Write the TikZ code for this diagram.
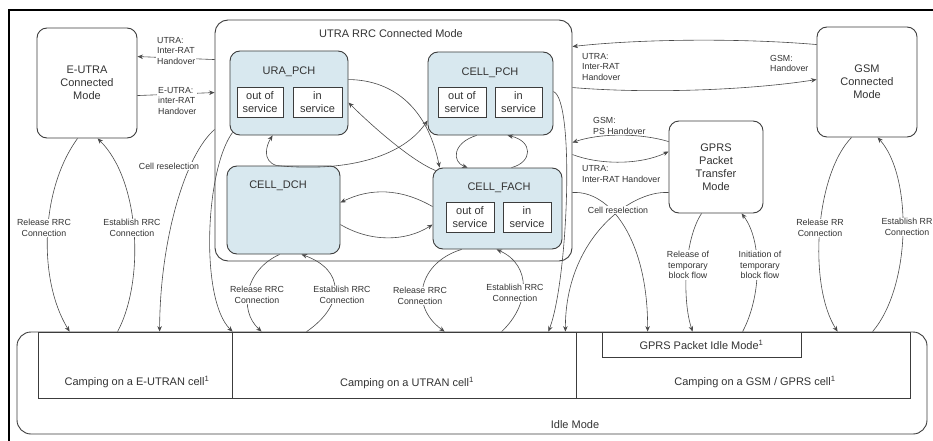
\documentclass[tikz,border=0pt]{standalone}
\usepackage{fontspec}
\setmainfont{Liberation Sans}
\usetikzlibrary{arrows.meta,calc}
\definecolor{lc}{HTML}{4A4A4A}
\definecolor{bc}{HTML}{3C3C3C}
\definecolor{tc}{HTML}{333333}
\definecolor{bluef}{HTML}{D8E8EF}
\begin{document}
\begin{tikzpicture}[x=1pt,y=-1pt,
  mainfont/.style={font=\fontsize{11}{13}\selectfont},
  lblfont/.style={font=\fontsize{8.8}{10.5}\selectfont},
  modebox/.style={draw=bc,line width=0.9pt,rounded corners=10pt,fill=white,inner sep=0pt,align=center,text=tc,mainfont},
  rrcstate/.style={modebox,fill=bluef},
  subbox/.style={draw=bc,line width=0.8pt,fill=white,inner sep=0pt,align=center,text=tc,mainfont},
  idlecell/.style={draw=bc,line width=0.8pt,inner sep=0pt},
  txt/.style={text=tc,mainfont,inner sep=0pt,align=center},
  elabel/.style={text=tc,lblfont,fill=white,inner sep=1pt,align=center},
  elabelL/.style={elabel,align=left,anchor=west},
  conn/.style={draw=lc,line width=0.6pt,-{Stealth[length=5.5pt,width=4.5pt]}},
]
\fill[white] (0,0) rectangle (933,441);
\path[use as bounding box] (0,0) rectangle (933,441);
\draw[black,line width=1.6pt] (9,441) -- (9,10) -- (933,10);

% Idle mode
\node[modebox,rounded corners=14pt,minimum width=910pt,minimum height=102pt] (idle) at (472,383) {};
\node[idlecell,minimum width=194pt,minimum height=66pt] (eutran) at (135,365) {};
\node[idlecell,minimum width=344pt,minimum height=66pt] (utran) at (404,365) {};
\node[idlecell,minimum width=334pt,minimum height=66pt] (gsmcell) at (743,365) {};
\node[idlecell,minimum width=199pt,minimum height=25pt,text=tc,mainfont] (gprsidle) at (701.5,344.5) {GPRS Packet Idle Mode\textsuperscript{1}};
\node[txt] (eutrantxt) at (137,382) {Camping on a E-UTRAN cell\textsuperscript{1}};
\node[txt] (utrantxt) at (407,383) {Camping on a UTRAN cell\textsuperscript{1}};
\node[txt] (gsmcelltxt) at (755,382) {Camping on a GSM / GPRS cell\textsuperscript{1}};
\node[txt] (idletxt) at (575,425) {Idle Mode};

% Connected modes
\node[modebox,minimum width=100pt,minimum height=110pt] (eutra) at (87,83) {E-UTRA\\Connected\\Mode};
\node[modebox,minimum width=100pt,minimum height=110pt] (gsm) at (867,82) {GSM\\Connected\\Mode};
\node[modebox,minimum width=94pt,minimum height=92pt] (gprs) at (716,167) {GPRS\\Packet\\Transfer\\Mode};

\node[modebox,rounded corners=13pt,minimum width=357pt,minimum height=241pt] (utra) at (393.5,140.5) {};
\node[txt] (utratitle) at (391,34) {UTRA RRC Connected Mode};

\node[rrcstate,minimum width=118pt,minimum height=84pt] (ura) at (289,93) {};
\node[txt] (uratitle) at (289,72) {URA\_PCH};
\node[subbox,minimum width=46pt,minimum height=30pt] (uraout) at (260,102) {out of\\service};
\node[subbox,minimum width=49pt,minimum height=30pt] (urain) at (317.5,102) {in\\service};

\node[rrcstate,minimum width=125pt,minimum height=83pt] (cellpch) at (490.5,93.5) {};
\node[txt] (pchtitle) at (490,73) {CELL\_PCH};
\node[subbox,minimum width=48pt,minimum height=30pt] (pchout) at (462,102) {out of\\service};
\node[subbox,minimum width=47pt,minimum height=30pt] (pchin) at (518.5,102) {in\\service};

\node[rrcstate,minimum width=113pt,minimum height=88pt] (celldch) at (283.5,210) {};
\node[txt] (dchtitle) at (278,186) {CELL\_DCH};

\node[rrcstate,minimum width=129pt,minimum height=81pt] (cellfach) at (497.5,208.5) {};
\node[txt] (fachtitle) at (499,188) {CELL\_FACH};
\node[subbox,minimum width=48pt,minimum height=30pt] (fachout) at (470,217) {out of\\service};
\node[subbox,minimum width=48pt,minimum height=30pt] (fachin) at (527,217) {in\\service};

% Connectors: E-UTRA side
\draw[conn] ($(utra.north west)+(0,40)$) -- ($(eutra.north east)+(0,29)$);
\draw[conn] ($(eutra.north east)+(0,68)$) -- ($(utra.north west)+(0,73)$);
\draw[conn] ($(utra.north west)+(0,110)$) .. controls (185,155) and (160,240) .. ($(eutran.north west)+(122,0)$);
\draw[conn] ($(ura.south west)+(3,-3)$) .. controls (205,170) and (200,300) .. ($(utran.north west)+(1,0)$);
\draw[conn] ($(eutra.south west)+(41,0)$) .. controls (40,190) and (38,280) .. ($(eutran.north west)+(32,0)$);
\draw[conn] ($(eutran.north west)+(80,0)$) .. controls (145,280) and (140,180) .. ($(eutra.south west)+(61,0)$);

% UTRA <-> idle
\draw[conn] ($(celldch.south west)+(53,0)$) .. controls (245,270) and (238,310) .. ($(utran.north west)+(30,0)$);
\draw[conn] ($(utran.north west)+(75,0)$) .. controls (345,305) and (345,270) .. ($(celldch.south west)+(75,0)$);
\draw[conn] ($(cellfach.south west)+(29,0)$) .. controls (420,262) and (408,305) .. ($(utran.north west)+(213,0)$);
\draw[conn] ($(utran.north west)+(270,0)$) .. controls (530,305) and (532,265) .. ($(cellfach.south west)+(64,0)$);
\draw[conn] ($(cellpch.north east)+(0,40)$) .. controls (575,100) and (568,280) .. ($(utran.north east)+(-28,0)$);
\draw[conn] ($(utra.north east)+(0,173)$) .. controls (610,190) and (648,240) .. ($(gsmcell.north west)+(72,0)$);
\draw[conn] ($(gprs.north west)+(0,72)$) .. controls (630,190) and (565,240) .. ($(utran.north east)+(-11,0)$);

% GSM / GPRS
\draw[conn] ($(gsm.north west)+(0,18)$) .. controls (740,38) and (640,39) .. ($(utra.north east)+(0,27)$);
\draw[conn] ($(utra.north east)+(0,68)$) .. controls (650,94) and (750,90) .. ($(gsm.north west)+(0,53)$);
\draw[conn] ($(gprs.north west)+(0,21)$) .. controls (640,133) and (600,133) .. ($(utra.north east)+(0,123)$);
\draw[conn] ($(utra.north east)+(0,135)$) .. controls (600,165) and (640,165) .. ($(gprs.north west)+(0,31)$);
\draw[conn] ($(gprs.south west)+(33,0)$) .. controls (684,240) and (682,300) .. ($(gprsidle.north west)+(91,0)$);
\draw[conn] ($(gprsidle.north west)+(141,0)$) .. controls (762,295) and (762,240) .. ($(gprs.south west)+(73,0)$);
\draw[conn] ($(gsm.south west)+(35,0)$) .. controls (815,175) and (808,285) .. ($(gsmcell.north west)+(262,0)$);
\draw[conn] ($(gsmcell.north west)+(297,0)$) .. controls (912,285) and (912,175) .. ($(gsm.south west)+(61,0)$);

% inside UTRA
\draw[conn] ($(ura.north east)+(0,29)$) .. controls (395,80) and (428,110) .. ($(cellfach.north west)+(7,0)$);
\draw[conn] ($(cellfach.north west)+(3,3)$) .. controls (410,160) and (370,124) .. ($(ura.north east)+(0,52)$);
\draw[conn] ($(celldch.north west)+(50,0)$) .. controls (262,161) and (266,146) .. ($(ura.south west)+(43,0)$);
\draw[conn] ($(celldch.north west)+(50,0)$) .. controls (340,172) and (400,160) .. ($(cellpch.north west)+(0,69)$);
\draw[conn] ($(cellpch.south west)+(49,0)$) .. controls (452,143) and (452,162) .. ($(cellfach.north west)+(35,0)$);
\draw[conn] ($(cellfach.north west)+(79,0)$) .. controls (533,162) and (533,141) .. ($(cellpch.south west)+(80,0)$);
\draw[conn] ($(cellfach.north west)+(0,39)$) .. controls (400,188) and (370,188) .. ($(celldch.north east)+(0,37)$);
\draw[conn] ($(celldch.north east)+(0,59)$) .. controls (370,242) and (405,242) .. ($(cellfach.north west)+(0,57)$);

% labels
\node[elabelL] (l1) at (156,51) {UTRA:\\Inter-RAT\\Handover};
\node[elabelL] (l2) at (157,101) {E-UTRA:\\inter-RAT\\Handover};
\node[elabel] (l3) at (169,166) {Cell reselection};
\node[elabel] (l5) at (44,228) {Release RRC\\Connection};
\node[elabel] (l6) at (132,228) {Establish RRC\\Connection};
\node[elabel] (l7) at (257,295) {Release RRC\\Connection};
\node[elabel] (l8) at (342,295) {Establish RRC\\Connection};
\node[elabel] (l9) at (420,296) {Release RRC\\Connection};
\node[elabel] (l10) at (515,293) {Establish RRC\\Connection};
\node[elabel] (l12) at (618,210) {Cell reselection};
\node[elabelL] (l13) at (581,67) {UTRA:\\Inter-RAT\\Handover};
\node[elabelL] (l14) at (769,63.5) {GSM:\\Handover};
\node[elabelL] (l15) at (592,126) {GSM:\\PS Handover};
\node[elabelL] (l16) at (581,174) {UTRA:\\Inter-RAT Handover};
\node[elabel] (l17) at (688,265) {Release of\\temporary\\block flow};
\node[elabel] (l18) at (760,265) {Initiation of\\temporary\\block flow};
\node[elabel] (l19) at (820,228) {Release RR\\Connection};
\node[elabel] (l20) at (907,227) {Establish RR\\Connection};
\end{tikzpicture}
\end{document}
